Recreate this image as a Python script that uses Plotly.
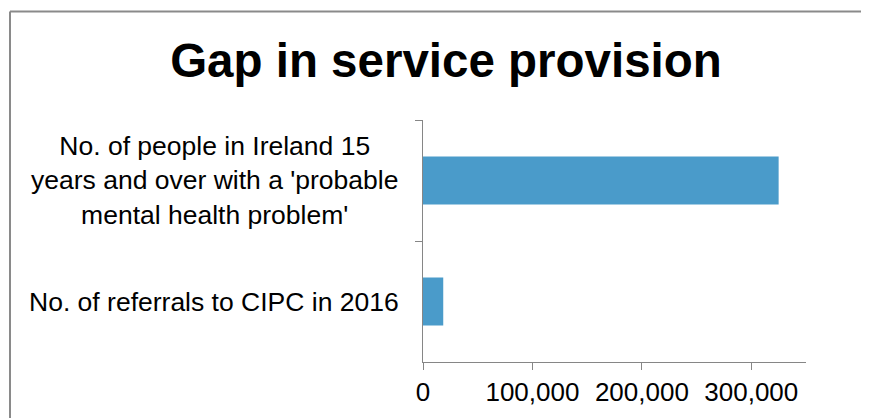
import plotly.graph_objects as go

# Data
categories = [
    "No. of people in Ireland 15<br>years and over with a 'probable<br>mental health problem'",
    "No. of referrals to CIPC in 2016",
]
values = [325000, 18500]
x_tick_values = [0, 100000, 200000, 300000]
x_tick_labels = ["0", "100,000", "200,000", "300,000"]
title_text = "Gap in service provision"

FONT = "Arial, Liberation Sans, sans-serif"
AXIS_GREY = "#868686"

OFF = 8  # page body margin of the html page
W, H = 869 - OFF, 418 - OFF
PL, PR, PT, PB = 423, 806, 120, 362  # plot area in screenshot pixels
L, T = PL - OFF, PT - OFF
R, B = W - (PR - OFF), H - (PB - OFF)
pw = W - L - R
ph = H - T - B

def px_x(p):
    return (p - PL) / pw

def px_y(p):
    return (PB - p) / ph

fig = go.Figure()
fig.add_trace(go.Bar(
    x=values,
    y=categories,
    orientation="h",
    marker=dict(color="#4A9BCA", line=dict(width=0)),
    hoverinfo="x+y",
))

# centred category labels
for c in categories:
    fig.add_annotation(
        x=px_x(214), xref="paper", y=c, yref="y",
        text=c, showarrow=False, xanchor="center", yanchor="middle",
        align="center", font=dict(family=FONT, size=26.5, color="#000000"),
    )

# outer chart border (left and top edges visible)
fig.add_shape(
    type="line", xref="paper", yref="paper",
    x0=px_x(10), x1=px_x(10), y0=px_y(440), y1=px_y(11.5),
    line=dict(color="#8A8A8A", width=2), layer="below",
)
fig.add_shape(
    type="line", xref="paper", yref="paper",
    x0=px_x(10), x1=px_x(890), y0=px_y(11.5), y1=px_y(11.5),
    line=dict(color="#8A8A8A", width=2), layer="below",
)

fig.update_layout(
    width=W, height=H,
    margin=dict(l=L, r=R, t=T, b=B, pad=0),
    paper_bgcolor="white", plot_bgcolor="white",
    showlegend=False,
    bargap=0.605,
    title=dict(
        text="<b>" + title_text + "</b>",
        x=(446 - OFF) / W, xref="container", xanchor="center",
        y=(H - (60 - OFF)) / H, yref="container", yanchor="middle",
        font=dict(family=FONT, size=47.5, color="#000000"),
    ),
    xaxis=dict(
        range=[0, 350000],
        tickvals=x_tick_values, ticktext=x_tick_labels,
        showgrid=False, zeroline=False, automargin=False,
        showline=True, linecolor=AXIS_GREY, linewidth=1.3,
        ticks="outside", ticklen=7, tickcolor=AXIS_GREY, tickwidth=1.3,
        tickfont=dict(family=FONT, size=26, color="#000000"),
        fixedrange=True,
    ),
    yaxis=dict(
        autorange="reversed",
        type="category",
        tickson="boundaries",
        showticklabels=False, automargin=False,
        showgrid=False, zeroline=False,
        showline=True, linecolor=AXIS_GREY, linewidth=1.3,
        ticks="outside", ticklen=7, tickcolor=AXIS_GREY, tickwidth=1.3,
        fixedrange=True,
    ),
)

fig.write_html("out.html")
